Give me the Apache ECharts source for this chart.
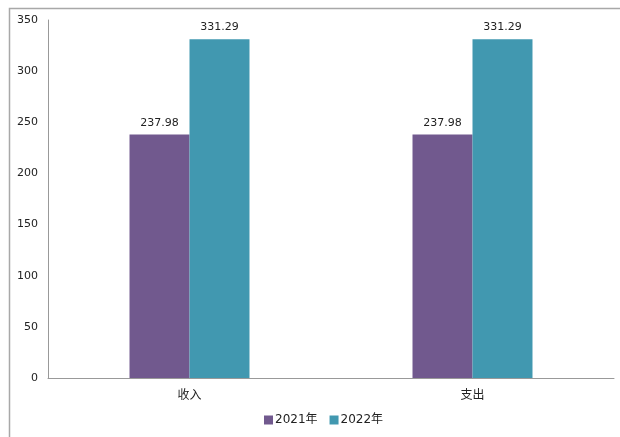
<!DOCTYPE html>
<html><head><meta charset="utf-8">
<script src="https://cdn.jsdelivr.net/npm/echarts@6/dist/echarts.min.js"></script>
<style>html,body{margin:0;padding:0;background:#fff}#c{width:620px;height:437px}</style>
</head><body><div id="c"></div>
<script>
const categories = ['收入', '支出'];
const seriesNames = ['2021年', '2022年'];
const values2021 = [237.98, 237.98];
const values2022 = [331.29, 331.29];
const colors = ['#71598E', '#4198B0'];
const font = '"DejaVu Sans", "Noto Sans CJK SC", sans-serif';

const chart = echarts.init(document.getElementById('c'));
chart.setOption({
  animation: false,
  textStyle: { fontFamily: font },
  graphic: [{
    type: 'rect', left: 7, top: 6, shape: { width: 700, height: 600 },
    style: { fill: 'none', stroke: '#a8a8a8', lineWidth: 1.5 }, silent: true, z: -1
  }],
  grid: { left: 48, top: 20, right: 6, bottom: 59 },
  legend: {
    bottom: 6, left: 259, itemWidth: 9, itemHeight: 9, itemGap: 12,
    icon: 'rect',
    textStyle: { fontSize: 12, color: '#222', fontFamily: font, padding: [0, 0, 0, -3] },
    data: seriesNames
  },
  xAxis: {
    type: 'category', data: categories,
    axisLine: { lineStyle: { color: '#999', width: 1 } },
    axisTick: { show: false },
    axisLabel: { color: '#222', fontSize: 12, margin: 12 }
  },
  yAxis: {
    type: 'value', min: 0, max: 350, interval: 50,
    axisLine: { show: true, lineStyle: { color: '#999', width: 1 } },
    axisTick: { show: false },
    splitLine: { show: false },
    axisLabel: { color: '#222', fontSize: 11, margin: 10 }
  },
  series: [
    { name: seriesNames[0], type: 'bar', data: values2021, barGap: '0%', barCategoryGap: '57.6%',
      itemStyle: { color: colors[0] },
      label: { show: true, position: 'top', color: '#222', fontSize: 11, distance: 6 } },
    { name: seriesNames[1], type: 'bar', data: values2022,
      itemStyle: { color: colors[1] },
      label: { show: true, position: 'top', color: '#222', fontSize: 11, distance: 6 } }
  ]
});
</script></body></html>
